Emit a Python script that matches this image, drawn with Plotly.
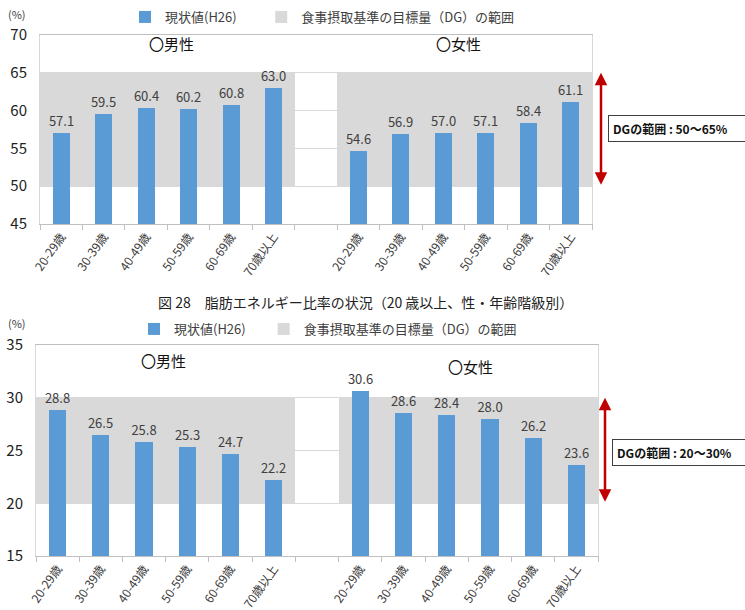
import plotly.graph_objects as go

W, H = 745, 610

age_labels = ["20-29歳", "30-39歳", "40-49歳", "50-59歳", "60-69歳", "70歳以上"]
male_top = [57.1, 59.5, 60.4, 60.2, 60.8, 63.0]
female_top = [54.6, 56.9, 57.0, 57.1, 58.4, 61.1]
male_bot = [28.8, 26.5, 25.8, 25.3, 24.7, 22.2]
female_bot = [30.6, 28.6, 28.4, 28.0, 26.2, 23.6]
dg_top = (50, 65)
dg_bot = (20, 30)
yrange_top = (45, 70)
yrange_bot = (15, 35)
series_name = "現状値(H26)"
band_name = "食事摂取基準の目標量（DG）の範囲"
title_bot = "図 28　脂肪エネルギー比率の状況（20 歳以上、性・年齢階級別）"

xpos = list(range(0, 6)) + list(range(7, 13))
ticktext = age_labels + age_labels

BLUE = "#5b9bd5"
GRAY = "#d9d9d9"
FONT = "Noto Sans CJK JP, sans-serif"
TXT = "#404040"

def px(x):
    return x / W

def py(y):
    return 1 - y / H

fig = go.Figure()

for (xa, ya, leg, male, female, dg, pad) in [
    ("x", "y", "legend", male_top, female_top, dg_top, "\u3000\u2002"),
    ("x2", "y2", "legend2", male_bot, female_bot, dg_bot, "\u3000"),
]:
    fig.add_trace(go.Bar(
        x=xpos, y=[dg[1] - dg[0]] * len(xpos), base=[dg[0]] * len(xpos),
        width=1, marker=dict(color=GRAY, line=dict(width=0)),
        name=band_name, xaxis=xa, yaxis=ya, legend=leg, legendrank=2,
        hoverinfo="skip",
    ))
    vals = male + female
    fig.add_trace(go.Bar(
        x=xpos, y=vals, width=0.4,
        marker=dict(color=BLUE, line=dict(width=0)),
        name=series_name + pad, xaxis=xa, yaxis=ya, legend=leg, legendrank=1,
        text=[f"{v:.1f}" for v in vals], textposition="outside", constraintext="none",
        textfont=dict(size=13, color=TXT, family=FONT), cliponaxis=False,
    ))

def xaxis_cfg(domain, anchor):
    return dict(
        domain=domain, anchor=anchor, range=[-0.5, 12.5],
        tickmode="array", tickvals=xpos, ticktext=ticktext,
        tickangle=-55, ticks="", tickfont=dict(size=12, color=TXT, family=FONT),
        showline=True, linecolor="#bfbfbf", linewidth=1, mirror=True,
        showgrid=False, zeroline=False, automargin=False,
        minor=dict(tick0=0.5, dtick=1, ticks="outside", ticklen=5, tickcolor="#bfbfbf", showgrid=False),
    )

def yaxis_cfg(domain, anchor, rng):
    return dict(
        domain=domain, anchor=anchor, range=list(rng), dtick=5,
        tickfont=dict(size=15, color="#222", family=FONT),
        showgrid=True, gridcolor=GRAY, gridwidth=1, zeroline=False,
        showline=True, linecolor=GRAY, mirror=True, ticks="",
        ticklabelstandoff=9, automargin=False,
    )

fig.update_layout(
    width=W, height=H, margin=dict(l=0, r=0, t=0, b=0, autoexpand=False),
    paper_bgcolor="white", plot_bgcolor="white",
    barmode="overlay", bargap=0,
    font=dict(family=FONT, color=TXT),
    xaxis=xaxis_cfg([px(40), px(592)], "y"),
    yaxis=yaxis_cfg([py(224), py(35)], "x", yrange_top),
    xaxis2=xaxis_cfg([px(36), px(598)], "y2"),
    yaxis2=yaxis_cfg([py(556), py(345)], "x2", yrange_bot),
    legend=dict(orientation="h", x=px(125), y=py(17), xanchor="left", yanchor="middle",
                font=dict(size=13, color=TXT, family=FONT), itemwidth=30,
                bgcolor="rgba(0,0,0,0)", itemclick=False, itemdoubleclick=False),
    legend2=dict(orientation="h", x=px(134), y=py(329), xanchor="left", yanchor="middle",
                 font=dict(size=13, color=TXT, family=FONT), itemwidth=30,
                 bgcolor="rgba(0,0,0,0)", itemclick=False, itemdoubleclick=False),
    showlegend=True,
)

ann = []
for yy in (14, 323):
    ann.append(dict(text="(%)", x=px(17), y=py(yy), xref="paper", yref="paper",
                    xanchor="center", yanchor="middle",
                    showarrow=False, font=dict(size=11, color=TXT, family=FONT)))
for (xx, yy, t) in [(171, 44, "〇男性"), (458, 44, "〇女性"), (163, 360, "〇男性"), (471, 366, "〇女性")]:
    ann.append(dict(text=t, x=px(xx), y=py(yy), xref="paper", yref="paper",
                    xanchor="center", yanchor="middle",
                    showarrow=False, font=dict(size=15, color="#111", family=FONT)))
ann.append(dict(text=title_bot, x=px(365), y=py(302), xref="paper", yref="paper",
                xanchor="center", yanchor="middle",
                showarrow=False, font=dict(size=14, color="#222", family=FONT)))
for (xx, yref, dg) in [(601, "y", dg_top), (605, "y2", dg_bot)]:
    ann.append(dict(text="", x=px(xx), y=dg[1], xref="paper", yref=yref,
                    ax=0, ay=dg[0], axref="pixel", ayref=yref,
                    showarrow=True, arrowside="end+start", arrowhead=2, startarrowhead=2,
                    arrowsize=1, startarrowsize=1,
                    arrowcolor="#c00000", arrowwidth=2.5))
for (xx, yy, dg) in [(608, 128, dg_top), (612, 452, dg_bot)]:
    ann.append(dict(text=f"<b>DGの範囲 : {dg[0]}～{dg[1]}%</b>", x=px(xx), y=py(yy),
                    xref="paper", yref="paper", xanchor="left", yanchor="middle",
                    showarrow=False, align="left", width=145,
                    bordercolor="#404040", borderwidth=1, borderpad=4, bgcolor="white",
                    font=dict(size=12, color="#111", family=FONT)))
fig.update_layout(annotations=ann)

fig.write_html("out.html")
